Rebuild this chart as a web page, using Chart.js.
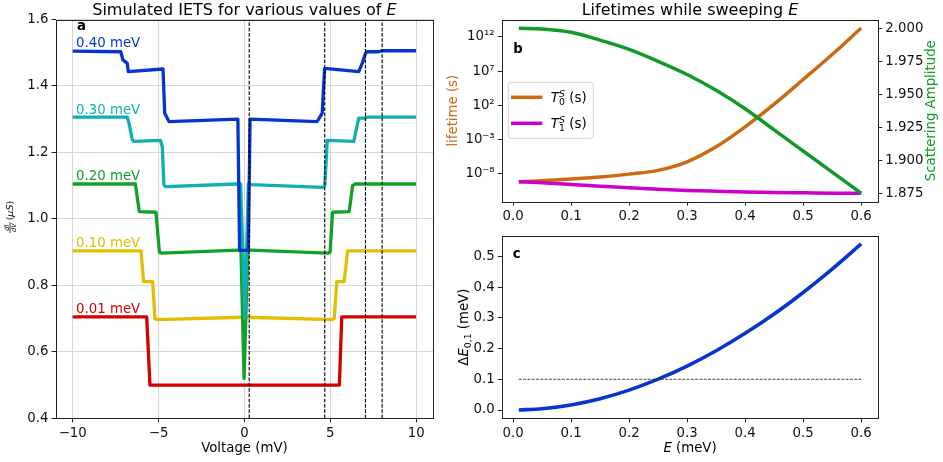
<!DOCTYPE html>
<html><head><meta charset="utf-8">
<script src="https://cdn.jsdelivr.net/npm/chart.js@4.4.1/dist/chart.umd.min.js"></script>
<style>
html,body{margin:0;padding:0;background:#fff;width:943px;height:462px;overflow:hidden;position:relative}
canvas{position:absolute}
</style></head><body>
<canvas id="ca" width="440" height="462" style="left:0px;top:0px;width:440px;height:462px"></canvas>
<canvas id="cb" width="503" height="225" style="left:440px;top:0px;width:503px;height:225px"></canvas>
<canvas id="cc" width="503" height="237" style="left:440px;top:225px;width:503px;height:237px"></canvas>
<script>
// ---------------- DATA: panel a (IETS curves) ----------------
const voltage40 = [-10, -7.2, -7.07, -6.82, -6.76, -4.74, -4.64, -4.39, -0.38, -0.28, 0.23, 0.33, 4.24, 4.53, 4.67, 6.66, 6.86, 7.05, 7.15, 7.8, 8.0, 10];
const didv40    = [1.505, 1.503, 1.478, 1.468, 1.443, 1.451, 1.318, 1.293, 1.300, 0.905, 0.905, 1.300, 1.293, 1.318, 1.453, 1.443, 1.468, 1.498, 1.503, 1.503, 1.506, 1.506];
const voltage30 = [-10, -6.82, -6.72, -6.53, -6.43, -4.88, -4.78, -4.69, -4.59, -0.38, -0.22, 0.03, 0.23, 0.38, 4.6, 4.68, 4.83, 6.37, 6.47, 6.66, 7.0, 7.15, 10];
const didv30    = [1.306, 1.306, 1.288, 1.238, 1.233, 1.236, 1.217, 1.103, 1.097, 1.105, 1.105, 0.700, 1.105, 1.103, 1.095, 1.100, 1.236, 1.233, 1.258, 1.303, 1.303, 1.306, 1.306];
const voltage20 = [-10, -6.35, -6.12, -5.15, -4.95, -4.8, -0.38, -0.2, -0.02, 0.2, 0.35, 4.85, 4.99, 5.13, 6.1, 6.3, 6.45, 10];
const didv20    = [1.105, 1.105, 1.022, 1.020, 0.900, 0.897, 0.906, 0.906, 0.520, 0.906, 0.906, 0.897, 0.900, 1.020, 1.022, 1.100, 1.105, 1.105];
const voltage10 = [-10, -6.02, -5.87, -5.34, -5.21, -5.05, -0.1, 0.1, 5.1, 5.23, 5.38, 5.81, 6.01, 10];
const didv10    = [0.904, 0.904, 0.811, 0.811, 0.700, 0.697, 0.704, 0.704, 0.697, 0.700, 0.811, 0.811, 0.904, 0.904];
const voltage01 = [-10, -5.69, -5.5, 5.53, 5.67, 10];
const didv01    = [0.705, 0.705, 0.500, 0.500, 0.705, 0.705];
const curveLabels = ['0.40 meV', '0.30 meV', '0.20 meV', '0.10 meV', '0.01 meV'];
const labelVoltage = -9.8;
const labelLevels = [1.517, 1.317, 1.117, 0.916, 0.717];
const thresholdVoltages = [0.28, 4.68, 7.05, 8.02];
const xTicksA = [-10, -5, 0, 5, 10];
const yTicksA = [0.4, 0.6, 0.8, 1.0, 1.2, 1.4, 1.6];

// ---------------- DATA: panels b, c ----------------
const sweepE      = [0.01, 0.05, 0.10, 0.15, 0.20, 0.25, 0.30, 0.35, 0.40, 0.45, 0.50, 0.55, 0.60];
const lifetimeT0  = [6.8e-10, 1.0e-9, 1.7e-9, 3.5e-9, 9.1e-9, 3.2e-8, 5.6e-7, 8.7e-5, 7.2e-2, 1.48e2, 6.0e5, 2.7e9, 2.0e13];
const lifetimeT1  = [6.8e-10, 5.0e-10, 2.8e-10, 1.6e-10, 9.1e-11, 5.6e-11, 3.8e-11, 2.9e-11, 2.3e-11, 1.9e-11, 1.7e-11, 1.5e-11, 1.4e-11];
const scatterAmp  = [2.000, 1.9995, 1.997, 1.991, 1.984, 1.975, 1.965, 1.953, 1.939, 1.923, 1.907, 1.891, 1.875];
const deltaE01    = [0.0002, 0.0042, 0.0165, 0.0368, 0.0649, 0.1004, 0.143, 0.193, 0.250, 0.313, 0.383, 0.459, 0.541];
const dEThreshold = 0.1;
const xTicksBC = [0.0, 0.1, 0.2, 0.3, 0.4, 0.5, 0.6];
const lifeTicks = [1e-8, 1e-3, 1e2, 1e7, 1e12];
const lifeTickLabels = ['10\u207B\u2078', '10\u207B\u00B3', '10\u00B2', '10\u2077', '10\u00B9\u00B2'];
const ampTicks = [1.875, 1.900, 1.925, 1.950, 1.975, 2.000];
const dETicks = [0.0, 0.1, 0.2, 0.3, 0.4, 0.5];

// ---------------- STYLE ----------------
const FONT = 'DejaVu Sans';
const TS = 13.3;
const colA = ['#0535cc', '#10b0b0', '#12a02a', '#e2be00', '#d40000'];
const colT0 = '#cc6a10', colT1 = '#cc00cc', colAmp = '#12992a', colDE = '#0a35cc';
const AX = '#222';

const pts = (xs, ys) => xs.map((x, i) => ({x: x, y: ys[i]}));
const fixTicks = arr => (s => { s.ticks = arr.map(v => ({value: v})); });
const minus = v => (v < 0 ? '\u2212' + Math.abs(v) : String(v));

function scaleOpts(o) {
  return Object.assign({
    grid: {drawOnChartArea: false, tickLength: 4, tickColor: AX, tickWidth: 1},
    border: {display: false},
    ticks: {font: {family: FONT, size: TS}, color: '#111', padding: 3, maxRotation: 0, autoSkip: false}
  }, o);
}
function deepTicks(o, extra) { o.ticks = Object.assign({}, o.ticks, extra); return o; }

function frame(chart) {
  const {ctx, chartArea: a} = chart;
  const r = v => Math.round(v) + 0.5;
  ctx.save(); ctx.strokeStyle = AX; ctx.lineWidth = 1;
  ctx.strokeRect(r(a.left), r(a.top), r(a.right) - r(a.left), r(a.bottom) - r(a.top));
  ctx.restore();
}
function rich(ctx, parts, x, y, align) {
  let w = 0;
  for (const p of parts) { ctx.font = p.font; w += ctx.measureText(p.text).width; }
  let cx = align === 'center' ? x - w / 2 : x;
  ctx.textAlign = 'left'; ctx.textBaseline = 'alphabetic';
  for (const p of parts) {
    ctx.font = p.font; if (p.color) ctx.fillStyle = p.color;
    ctx.fillText(p.text, cx, y + (p.dy || 0));
    cx += ctx.measureText(p.text).width;
  }
  return w;
}
const F = (s, st) => (st ? st + ' ' : '') + s + 'px ' + FONT;

// ---------------- PANEL A ----------------
const dsA = [];
thresholdVoltages.forEach(v => dsA.push({data: [{x: v, y: yTicksA[0]}, {x: v, y: yTicksA[yTicksA.length - 1]}],
  borderColor: '#000', borderWidth: 1.1, borderDash: [3.7, 1.6], pointRadius: 0}));
[[voltage40, didv40], [voltage30, didv30], [voltage20, didv20], [voltage10, didv10], [voltage01, didv01]].forEach((c, i) =>
  dsA.push({data: pts(c[0], c[1]), borderColor: colA[i], borderWidth: 3.3, pointRadius: 0, tension: 0,
    borderJoinStyle: 'round', borderCapStyle: 'butt'}));

const gridA = {drawOnChartArea: true, color: '#d6d6d6', lineWidth: 1, tickLength: 4, tickColor: AX, tickWidth: 1};
new Chart(document.getElementById('ca'), {
  type: 'line',
  data: {datasets: dsA},
  options: {
    responsive: false, animation: false, devicePixelRatio: 1,
    layout: {padding: {left: 0, top: 19.5, right: 440 - 433.3, bottom: 0}},
    plugins: {legend: {display: false}, tooltip: {enabled: false}},
    scales: {
      x: deepTicks(scaleOpts({type: 'linear', min: -11, max: 11, grid: gridA,
        afterBuildTicks: fixTicks(xTicksA), afterFit: s => { s.height = 462 - 418.3; }}), {callback: v => minus(v)}),
      y: deepTicks(scaleOpts({type: 'linear', min: 0.4, max: 1.6, grid: gridA,
        afterBuildTicks: fixTicks(yTicksA), afterFit: s => { s.width = 55.5; }}), {callback: v => v.toFixed(1)})
    }
  },
  plugins: [{id: 'decA', afterDraw(chart) {
    const ctx = chart.ctx, a = chart.chartArea, sx = chart.scales.x, sy = chart.scales.y;
    frame(chart);
    ctx.save();
    ctx.fillStyle = '#000';
    const cx = (a.left + a.right) / 2;
    rich(ctx, [{text: 'Simulated IETS for various values of ', font: F(16)}, {text: 'E', font: F(16, 'italic')}], cx, 15, 'center');
    ctx.font = F(TS, 'bold'); ctx.textAlign = 'left'; ctx.fillText('a', 77, 30);
    curveLabels.forEach((t, i) => {
      ctx.fillStyle = colA[i]; ctx.font = F(TS); ctx.textAlign = 'left'; ctx.textBaseline = 'alphabetic';
      ctx.fillText(t, sx.getPixelForValue(labelVoltage), sy.getPixelForValue(labelLevels[i]));
    });
    ctx.fillStyle = '#000';
    rich(ctx, [{text: 'Voltage (mV)', font: F(TS)}], cx, 451.5, 'center');
    // y label: dI/dV (muS)
    ctx.save();
    ctx.translate(10, (a.top + a.bottom) / 2 - 2);
    ctx.rotate(-Math.PI / 2);
    ctx.font = F(6.5, 'italic');
    const wN = ctx.measureText('dI').width, wD = ctx.measureText('dV').width;
    ctx.font = F(9.5); const wP = ctx.measureText('(').width;
    ctx.font = F(9.5, 'italic'); const wM = ctx.measureText('\u03BCS').width;
    const fw = Math.max(wN, wD) + 2, tot = fw + 2 + 2 * wP + wM;
    let x0 = -tot / 2;
    ctx.textBaseline = 'alphabetic'; ctx.textAlign = 'center';
    ctx.font = F(6.5, 'italic');
    ctx.fillText('dI', x0 + fw / 2, -1.3);
    ctx.fillText('dV', x0 + fw / 2, 5.8);
    ctx.fillRect(x0, -0.4, fw, 0.8);
    ctx.textAlign = 'left';
    let xp = x0 + fw + 2;
    ctx.font = F(9.5); ctx.fillText('(', xp, 3.2); xp += wP;
    ctx.font = F(9.5, 'italic'); ctx.fillText('\u03BCS', xp, 3.2); xp += wM;
    ctx.font = F(9.5); ctx.fillText(')', xp, 3.2);
    ctx.restore();
    ctx.restore();
  }}]
});

// ---------------- PANEL B ----------------
new Chart(document.getElementById('cb'), {
  type: 'line',
  data: {datasets: [
    {data: pts(sweepE, scatterAmp), yAxisID: 'y1', borderColor: colAmp, borderWidth: 3.5, pointRadius: 0, cubicInterpolationMode: 'monotone', borderCapStyle: 'butt'},
    {data: pts(sweepE, lifetimeT1), yAxisID: 'y', borderColor: colT1, borderWidth: 3.5, pointRadius: 0, cubicInterpolationMode: 'monotone', borderCapStyle: 'butt'},
    {data: pts(sweepE, lifetimeT0), yAxisID: 'y', borderColor: colT0, borderWidth: 3.5, pointRadius: 0, cubicInterpolationMode: 'monotone', borderCapStyle: 'butt'}
  ]},
  options: {
    responsive: false, animation: false, devicePixelRatio: 1,
    layout: {padding: {left: 0, top: 19.7, right: 0, bottom: 0}},
    plugins: {legend: {display: false}, tooltip: {enabled: false}},
    scales: {
      x: deepTicks(scaleOpts({type: 'linear', min: -0.0195, max: 0.6295,
        afterBuildTicks: fixTicks(xTicksBC), afterFit: s => { s.height = 225 - 201.7; }}), {callback: v => v.toFixed(1)}),
      y: deepTicks(scaleOpts({type: 'logarithmic', position: 'left', min: 8.5e-13, max: 3.3e14,
        afterBuildTicks: fixTicks(lifeTicks), afterFit: s => { s.width = 61.7; }}), {callback: (v, i) => lifeTickLabels[i]}),
      y1: deepTicks(scaleOpts({type: 'linear', position: 'right', min: 1.8686, max: 2.0065,
        afterBuildTicks: fixTicks(ampTicks), afterFit: s => { s.width = 64.7; }}), {callback: v => v.toFixed(3)})
    }
  },
  plugins: [{id: 'decB', afterDraw(chart) {
    const ctx = chart.ctx, a = chart.chartArea;
    frame(chart);
    ctx.save();
    ctx.fillStyle = '#000';
    rich(ctx, [{text: 'Lifetimes while sweeping ', font: F(16)}, {text: 'E', font: F(16, 'italic')}], (a.left + a.right) / 2, 15, 'center');
    ctx.font = F(TS, 'bold'); ctx.textAlign = 'left'; ctx.fillText('b', 73.3, 53.3);
    const cy = (a.top + a.bottom) / 2;
    ctx.save(); ctx.translate(17, cy); ctx.rotate(-Math.PI / 2);
    ctx.fillStyle = colT0; ctx.font = F(TS); ctx.textAlign = 'center'; ctx.fillText('lifetime (s)', 0, 0);
    ctx.restore();
    ctx.save(); ctx.translate(495, cy); ctx.rotate(-Math.PI / 2);
    ctx.fillStyle = colAmp; ctx.font = F(TS); ctx.textAlign = 'center'; ctx.fillText('Scattering Amplitude', 0, 0);
    ctx.restore();
    // legend
    const bx = 68.3, by = 82.3, bw = 85, bh = 56, rr = 3;
    ctx.beginPath();
    ctx.moveTo(bx + rr, by); ctx.lineTo(bx + bw - rr, by); ctx.arcTo(bx + bw, by, bx + bw, by + rr, rr);
    ctx.lineTo(bx + bw, by + bh - rr); ctx.arcTo(bx + bw, by + bh, bx + bw - rr, by + bh, rr);
    ctx.lineTo(bx + rr, by + bh); ctx.arcTo(bx, by + bh, bx, by + bh - rr, rr);
    ctx.lineTo(bx, by + rr); ctx.arcTo(bx, by, bx + rr, by, rr); ctx.closePath();
    ctx.fillStyle = 'rgba(255,255,255,0.8)'; ctx.fill();
    ctx.strokeStyle = '#d4d4d4'; ctx.lineWidth = 1; ctx.stroke();
    [[colT0, '0', 97.3], [colT1, '1', 123.3]].forEach(e => {
      ctx.strokeStyle = e[0]; ctx.lineWidth = 3.5; ctx.beginPath(); ctx.moveTo(71, e[2]); ctx.lineTo(102.3, e[2]); ctx.stroke();
      ctx.fillStyle = '#000'; ctx.textAlign = 'left'; ctx.textBaseline = 'alphabetic';
      const base = e[2] + 4.7;
      let x = 110.7;
      ctx.font = F(TS, 'italic'); ctx.fillText('T', x, base); x += ctx.measureText('T').width + 0.3;
      ctx.font = F(9.3); ctx.fillText(e[1], x, base + 3.3); const w1 = ctx.measureText(e[1]).width;
      ctx.font = F(9.3, 'italic'); ctx.fillText('S', x, base - 5.2); const w2 = ctx.measureText('S').width;
      x += Math.max(w1, w2);
      ctx.font = F(TS); ctx.fillText(' (s)', x, base);
    });
    ctx.restore();
  }}]
});

// ---------------- PANEL C ----------------
new Chart(document.getElementById('cc'), {
  type: 'line',
  data: {datasets: [
    {data: pts([sweepE[0], sweepE[sweepE.length - 1]], [dEThreshold, dEThreshold]), borderColor: '#333', borderWidth: 0.9, borderDash: [3, 1.3], pointRadius: 0},
    {data: pts(sweepE, deltaE01), borderColor: colDE, borderWidth: 3.6, pointRadius: 0, cubicInterpolationMode: 'monotone', borderCapStyle: 'butt'}
  ]},
  options: {
    responsive: false, animation: false, devicePixelRatio: 1,
    layout: {padding: {left: 0, top: 11, right: 64.7, bottom: 0}},
    plugins: {legend: {display: false}, tooltip: {enabled: false}},
    scales: {
      x: deepTicks(scaleOpts({type: 'linear', min: -0.0195, max: 0.6295,
        afterBuildTicks: fixTicks(xTicksBC), afterFit: s => { s.height = 237 - 193.3; }}), {callback: v => v.toFixed(1)}),
      y: deepTicks(scaleOpts({type: 'linear', min: -0.027, max: 0.567,
        afterBuildTicks: fixTicks(dETicks), afterFit: s => { s.width = 61.7; }}), {callback: v => v.toFixed(1)})
    }
  },
  plugins: [{id: 'decC', afterDraw(chart) {
    const ctx = chart.ctx, a = chart.chartArea;
    frame(chart);
    ctx.save();
    ctx.fillStyle = '#000';
    ctx.font = F(TS, 'bold'); ctx.textAlign = 'left'; ctx.fillText('c', 72.7, 32.7);
    rich(ctx, [{text: 'E', font: F(TS, 'italic')}, {text: ' (meV)', font: F(TS)}], (a.left + a.right) / 2, 227, 'center');
    ctx.save(); ctx.translate(28, (a.top + a.bottom) / 2); ctx.rotate(-Math.PI / 2);
    rich(ctx, [{text: '\u0394', font: F(TS)}, {text: 'E', font: F(TS, 'italic')}, {text: '0,1', font: F(9.3), dy: 2.6}, {text: ' (meV)', font: F(TS)}], 0, 0, 'center');
    ctx.restore();
    ctx.restore();
  }}]
});
</script>
</body></html>
